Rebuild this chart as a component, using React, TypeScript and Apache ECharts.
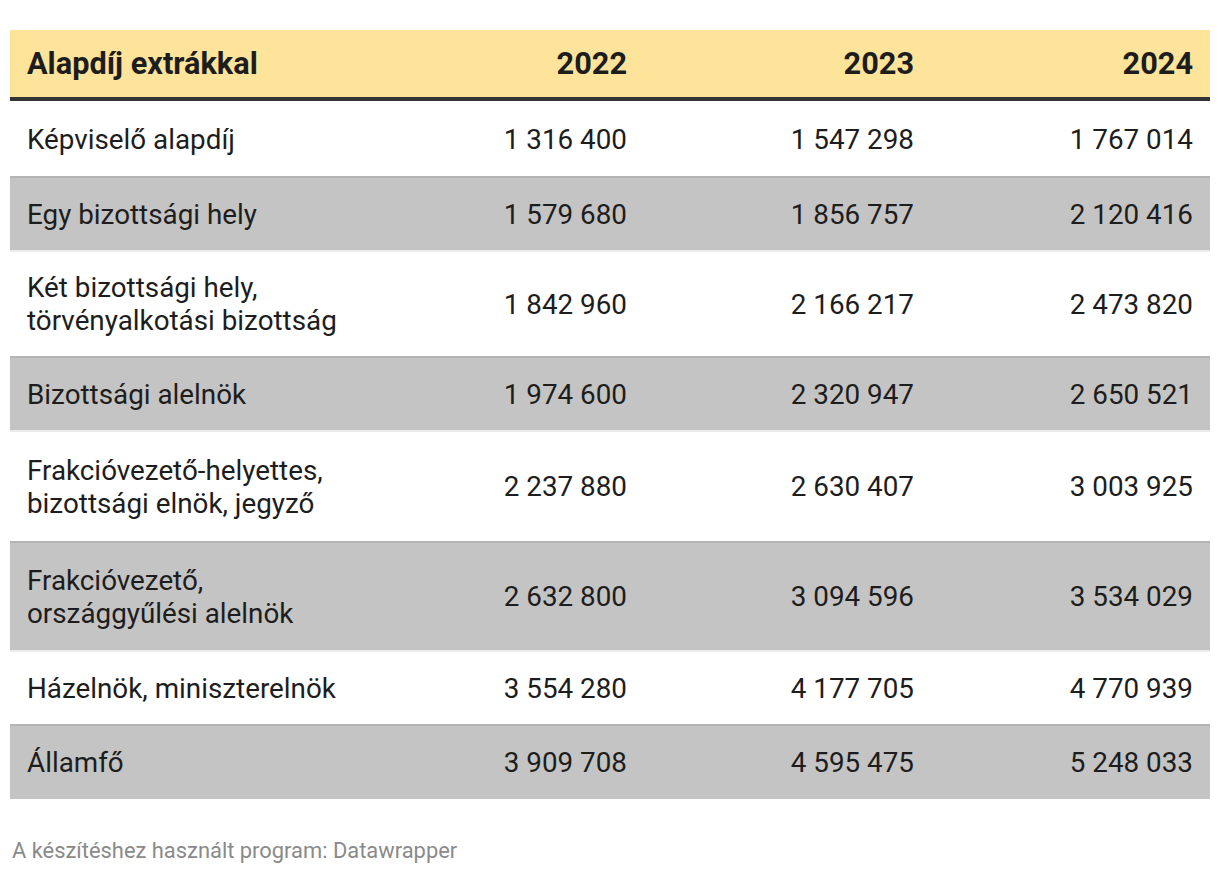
import React, { useEffect, useRef } from "react";
import * as echarts from "echarts";

// ---- data ----
const headerLabel = "Alapdíj extrákkal";
const years = ["2022", "2023", "2024"];
const categories = [
  "Képviselő alapdíj",
  "Egy bizottsági hely",
  "Két bizottsági hely,\ntörvényalkotási bizottság",
  "Bizottsági alelnök",
  "Frakcióvezető-helyettes,\nbizottsági elnök, jegyző",
  "Frakcióvezető,\nországgyűlési alelnök",
  "Házelnök, miniszterelnök",
  "Államfő",
];
const values2022 = [1316400, 1579680, 1842960, 1974600, 2237880, 2632800, 3554280, 3909708];
const values2023 = [1547298, 1856757, 2166217, 2320947, 2630407, 3094596, 4177705, 4595475];
const values2024 = [1767014, 2120416, 2473820, 2650521, 3003925, 3534029, 4770939, 5248033];
const footerText = "A készítéshez használt program: Datawrapper";

// ---- layout (page pixel units) ----
const TABLE_LEFT = 10;
const TABLE_RIGHT = 1210;
const HEADER_TOP = 30;
const HEADER_BOTTOM = 97;
const HEADER_BORDER = 4;
const LABEL_X = 27;
const COL_RIGHT = [627, 914, 1193];
const ROW_HEIGHTS = [75, 74, 106, 74, 111, 109, 74, 75];
const FONT = "Roboto, 'Noto Sans', sans-serif";
const BODY_SIZE = 27.8;
const HEAD_SIZE = 30.7;
const LINE_H = 33;
const TEXT_SHIFT = 1;

const fmt = (v: number) => String(v).replace(/\B(?=(\d{3})+(?!\d))/g, " ");

export default function App() {
  const ref = useRef<HTMLDivElement>(null);
  useEffect(() => {
    const chart = echarts.init(ref.current!, null, { renderer: "svg" });
    const bodyTop = HEADER_BOTTOM + HEADER_BORDER;
    const rowTops: number[] = [];
    let acc = bodyTop;
    ROW_HEIGHTS.forEach((h) => {
      rowTops.push(acc);
      acc += h;
    });

    const headerRender = (params: any, api: any) => {
      const tl = api.coord([TABLE_LEFT, HEADER_TOP]);
      const br = api.coord([TABLE_RIGHT, HEADER_BOTTOM]);
      const bb = api.coord([TABLE_RIGHT, HEADER_BOTTOM + HEADER_BORDER]);
      const cy = (tl[1] + br[1]) / 2;
      const children: any[] = [
        { type: "rect", shape: { x: tl[0], y: tl[1], width: br[0] - tl[0], height: br[1] - tl[1] }, style: { fill: "#fee49b" } },
        { type: "rect", shape: { x: tl[0], y: br[1], width: br[0] - tl[0], height: bb[1] - br[1] }, style: { fill: "#333333" } },
        {
          type: "text",
          style: { text: headerLabel, x: api.coord([LABEL_X, 0])[0], y: cy, fill: "#1d1d1d", fontSize: HEAD_SIZE, fontFamily: FONT, fontWeight: "bold", align: "left", verticalAlign: "middle" },
        },
      ];
      years.forEach((yr, j) => {
        children.push({
          type: "text",
          style: { text: yr, x: api.coord([COL_RIGHT[j], 0])[0], y: cy, fill: "#1d1d1d", fontSize: HEAD_SIZE, fontFamily: FONT, fontWeight: "bold", align: "right", verticalAlign: "middle" },
        });
      });
      return { type: "group", children };
    };

    const rowRender = (params: any, api: any) => {
      const i = params.dataIndex;
      const top = rowTops[i];
      const h = ROW_HEIGHTS[i];
      const tl = api.coord([TABLE_LEFT, top]);
      const br = api.coord([TABLE_RIGHT, top + h]);
      const cy = (tl[1] + br[1]) / 2 + TEXT_SHIFT;
      const gray = i % 2 === 1;
      const children: any[] = [
        { type: "rect", shape: { x: tl[0], y: tl[1], width: br[0] - tl[0], height: br[1] - tl[1] }, style: { fill: gray ? "#c4c4c4" : "#ffffff" } },
      ];
      if (i > 0) {
        children.push({ type: "rect", shape: { x: tl[0], y: tl[1], width: br[0] - tl[0], height: 2 }, style: { fill: "rgba(0,0,0,0.08)" } });
      }
      children.push({
        type: "text",
        style: { text: categories[i], x: api.coord([LABEL_X, 0])[0], y: cy, fill: "#1d1d1d", fontSize: BODY_SIZE, fontFamily: FONT, align: "left", verticalAlign: "middle", lineHeight: LINE_H },
      });
      [api.value(1), api.value(2), api.value(3)].forEach((v: number, j: number) => {
        children.push({
          type: "text",
          style: { text: fmt(v), x: api.coord([COL_RIGHT[j], 0])[0], y: cy, fill: "#1d1d1d", fontSize: BODY_SIZE, fontFamily: FONT, align: "right", verticalAlign: "middle" },
        });
      });
      return { type: "group", children };
    };

    chart.setOption({
      animation: false,
      grid: { left: 0, right: 0, top: 0, bottom: 0 },
      xAxis: { type: "value", min: 8, max: 1212, show: false },
      yAxis: { type: "value", min: 8, max: 868, inverse: true, show: false },
      series: [
        { type: "custom", silent: true, renderItem: headerRender, data: [[0, 0]] },
        {
          type: "custom",
          silent: true,
          renderItem: rowRender,
          data: categories.map((c, i) => [i, values2022[i], values2023[i], values2024[i]]),
          encode: { x: 0, y: 1 },
        },
      ],
      graphic: [
        {
          type: "text",
          left: 4,
          top: 831,
          style: { text: footerText, fill: "#8a8a8a", fontSize: 21.9, fontFamily: FONT },
        },
      ],
    });
    return () => chart.dispose();
  }, []);
  return <div ref={ref} style={{ width: 1204, height: 860 }} />;
}
